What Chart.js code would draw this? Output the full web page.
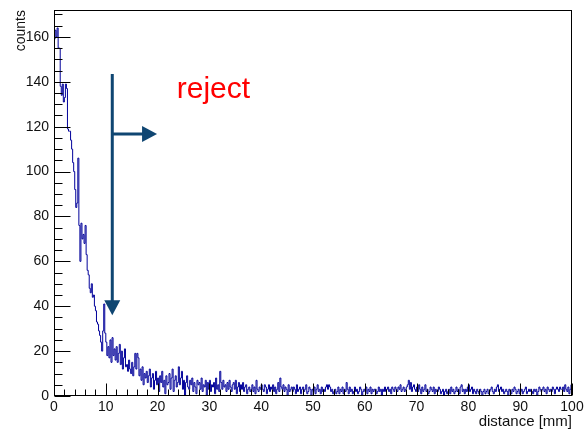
<!DOCTYPE html>
<html>
<head>
<meta charset="utf-8">
<style>
html,body{margin:0;padding:0;background:#fff;overflow:hidden}
#wrap{width:584px;height:431px;position:relative}
canvas{display:block}
</style>
<script src="https://cdn.jsdelivr.net/npm/chart.js@4.4.1/dist/chart.umd.min.js"></script>
</head>
<body>
<div id="wrap"><canvas id="c" width="584" height="431"></canvas></div>
<script>
// ---------------- data ----------------
const BIN_WIDTH = 0.2;              // mm per bin
const X_MIN = 0, X_MAX = 100;
const Y_MIN = 0, Y_MAX = 172;
const X_TICK_STEP = 10, X_MINOR_STEP = 2;
const Y_TICK_STEP = 20, Y_MINOR_STEP = 5;
const X_TITLE = 'distance [mm]';
const Y_TITLE = 'counts';
const REJECT_LABEL = 'reject';

// counts per 0.2 mm bin, in 20 mm chunks
const counts_00_20 = [
  159,163,160,164,155,155,138,134,139,131,
  133,139,137,119,118,118,114,110,104,100,
  92,84,86,106,76,60,77,70,72,68,
  76,63,56,54,48,46,50,44,45,40,
  38,33,32,29,27,24,20,29,41,28,
  24,18,22,17,25,15,26,18,21,16,
  22,15,19,23,14,20,12,17,21,13,
  14,11,16,12,10,15,9,13,19,12,
  19,17,9,12,7,13,5,10,8,11,
  6,9,12,4,8,10,3,7,11,5
];
const counts_20_40 = [
  8,2,9,6,11,4,7,1,9,5,
  6,10,3,8,12,2,7,9,4,6,
  13,5,8,11,3,7,0,6,9,4,
  3,7,5,8,2,6,4,1,7,5,
  6,3,8,2,5,4,7,0,6,3,
  7,2,5,4,6,1,8,3,5,2,
  11,6,3,7,4,5,2,6,3,7,
  4,2,5,6,3,7,1,4,6,2,
  5,3,6,2,4,5,1,3,4,2,
  3,5,2,4,1,7,3,2,4,3
];
const counts_40_60 = [
  5,3,2,5,4,1,3,5,2,4,
  3,5,2,4,1,3,6,2,8,4,
  3,5,2,4,3,0,5,2,3,4,
  2,4,3,1,5,2,3,4,1,3,
  4,2,3,5,1,2,4,3,0,3,
  2,4,1,3,5,2,3,1,4,2,
  3,2,4,5,3,5,4,2,3,1,
  2,3,1,2,4,1,3,2,4,1,
  3,2,6,3,1,4,2,3,1,2,
  4,2,3,1,2,4,3,0,2,3
];
const counts_60_80 = [
  2,4,1,3,2,4,1,3,2,3,
  3,1,2,4,2,3,0,3,2,4,
  2,3,4,2,3,1,4,3,2,4,
  3,2,4,3,5,2,3,4,2,3,
  4,5,7,3,6,2,4,5,3,2,
  4,2,5,3,1,4,2,3,5,2,
  3,1,2,4,3,2,4,1,3,2,
  2,4,3,1,2,3,0,2,3,1,
  2,3,1,4,2,3,1,2,4,2,
  3,1,4,5,2,3,1,3,2,4
];
const counts_80_100 = [
  5,2,3,4,1,3,2,1,3,2,
  1,3,2,0,2,3,1,2,3,1,
  2,3,4,2,1,3,2,4,5,2,
  3,4,2,3,1,2,3,2,0,3,
  2,1,3,2,4,3,1,2,3,1,
  2,3,1,2,3,4,1,2,3,2,
  3,2,1,3,2,3,0,2,4,3,
  2,3,4,2,3,1,4,3,2,3,
  2,4,3,1,3,4,3,2,4,3,
  3,4,2,5,3,2,4,1,3,5
];

// cut arrow / label placement (data coordinates)
const CUT_X = 11.25;            // vertical arrow position [mm]
const CUT_ARROW_TOP = 143.5;    // counts
const CUT_ARROW_TIP = 36;       // counts
const REJECT_ARROW_Y = 116.7;   // counts
const REJECT_ARROW_TIP = 19.9;  // mm
const REJECT_LABEL_X = 23.7;    // mm
const REJECT_LABEL_Y = 132.6;   // counts (baseline)

// ---------------- build ----------------
const counts = [].concat(counts_00_20, counts_20_40, counts_40_60, counts_60_80, counts_80_100);
const points = counts.map((c, i) => ({x: +(i * BIN_WIDTH).toFixed(2), y: c}));
points.push({x: X_MAX, y: counts[counts.length - 1]});

const FONT = "'Liberation Sans', Arial, Helvetica, sans-serif";
const FONT_NARROW = "'Liberation Sans Narrow', 'Arial Narrow', 'Liberation Sans', sans-serif";
const HIST_COLOR = '#00009a';
const ARROW_COLOR = '#0f4672';

const framePlugin = {
  id: 'rootFrame',
  afterDatasetsDraw(chart) {
    const {ctx, chartArea: a, scales: {x, y}} = chart;
    ctx.save();
    ctx.strokeStyle = '#000';
    ctx.lineWidth = 1;
    const L = Math.round(a.left) + 0.5, R = Math.round(a.right) - 0.5;
    const T = Math.round(a.top) + 0.5, B = Math.round(a.bottom) - 0.5;
    ctx.strokeRect(L, T, R - L, B - T);
    ctx.beginPath();
    const nx = Math.round((X_MAX - X_MIN) / X_MINOR_STEP);
    const perX = X_TICK_STEP / X_MINOR_STEP;
    for (let i = 0; i <= nx; i++) {
      const v = X_MIN + i * X_MINOR_STEP;
      const px = Math.round(x.getPixelForValue(v)) + 0.5;
      const len = (i % perX === 0) ? 12 : 6;
      ctx.moveTo(px, B); ctx.lineTo(px, B - len);
    }
    const ny = Math.floor((Y_MAX - Y_MIN) / Y_MINOR_STEP);
    const perY = Y_TICK_STEP / Y_MINOR_STEP;
    for (let i = 0; i <= ny; i++) {
      const v = Y_MIN + i * Y_MINOR_STEP;
      const py = Math.round(y.getPixelForValue(v)) + 0.5;
      const len = (i % perY === 0) ? 16 : 8;
      ctx.moveTo(L, py); ctx.lineTo(L + len, py);
    }
    ctx.stroke();

    // arrows
    const ax = x.getPixelForValue(CUT_X);
    const aTop = y.getPixelForValue(CUT_ARROW_TOP);
    const aTip = y.getPixelForValue(CUT_ARROW_TIP);
    const hy = y.getPixelForValue(REJECT_ARROW_Y);
    const hTip = x.getPixelForValue(REJECT_ARROW_TIP);
    const head = 15, half = 8;
    ctx.strokeStyle = ARROW_COLOR;
    ctx.fillStyle = ARROW_COLOR;
    ctx.lineWidth = 3;
    ctx.beginPath();
    ctx.moveTo(ax, aTop); ctx.lineTo(ax, aTip - head + 1);
    ctx.moveTo(ax, hy); ctx.lineTo(hTip - head + 1, hy);
    ctx.stroke();
    ctx.beginPath();
    ctx.moveTo(ax, aTip); ctx.lineTo(ax - half, aTip - head); ctx.lineTo(ax + half, aTip - head); ctx.closePath();
    ctx.fill();
    ctx.beginPath();
    ctx.moveTo(hTip, hy); ctx.lineTo(hTip - head, hy - half); ctx.lineTo(hTip - head, hy + half); ctx.closePath();
    ctx.fill();

    // label
    ctx.fillStyle = '#ff0000';
    ctx.font = '30px ' + FONT;
    ctx.textAlign = 'left';
    ctx.textBaseline = 'alphabetic';
    ctx.fillText(REJECT_LABEL, x.getPixelForValue(REJECT_LABEL_X), y.getPixelForValue(REJECT_LABEL_Y));
    ctx.restore();
  }
};

new Chart(document.getElementById('c').getContext('2d'), {
  type: 'line',
  data: {
    datasets: [{
      data: points,
      stepped: 'before',
      borderColor: HIST_COLOR,
      borderWidth: 1,
      pointRadius: 0,
      fill: false,
      tension: 0
    }]
  },
  options: {
    responsive: false,
    animation: false,
    devicePixelRatio: 1,
    parsing: false,
    layout: {padding: {left: 0, right: 12, top: 10, bottom: 0}},
    plugins: {legend: {display: false}, tooltip: {enabled: false}, title: {display: false}},
    scales: {
      x: {
        type: 'linear', min: X_MIN, max: X_MAX,
        grid: {display: false, drawTicks: false},
        border: {display: false},
        ticks: {stepSize: X_TICK_STEP, includeBounds: false, autoSkip: false, maxRotation: 0,
                padding: 3, color: '#111', font: {family: FONT, size: 14}},
        title: {display: true, text: X_TITLE, align: 'end', color: '#111',
                font: {family: FONT, size: 15}, padding: {top: 0, bottom: 0}},
        afterFit(s) { s.height = 35; s.paddingLeft = 0; s.paddingRight = 0; }
      },
      y: {
        type: 'linear', min: Y_MIN, max: Y_MAX,
        grid: {display: false, drawTicks: false},
        border: {display: false},
        ticks: {stepSize: Y_TICK_STEP, includeBounds: false, autoSkip: false,
                padding: 5, color: '#111', font: {family: FONT, size: 14}},
        title: {display: true, text: Y_TITLE, align: 'end', color: '#111',
                font: {family: FONT_NARROW, size: 14}, padding: {top: 13, bottom: 0}},
        afterFit(s) { s.width = 54; s.paddingTop = 0; s.paddingBottom = 0; }
      }
    }
  },
  plugins: [framePlugin]
});
</script>
</body>
</html>
